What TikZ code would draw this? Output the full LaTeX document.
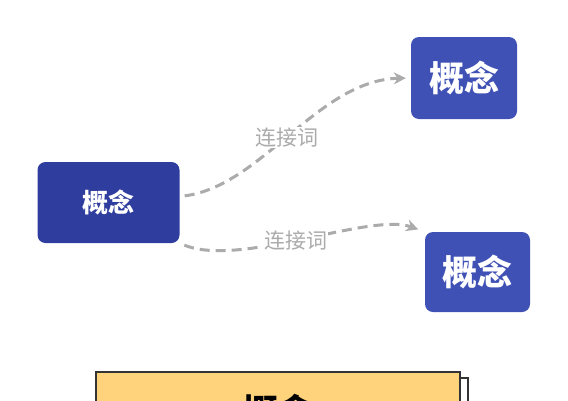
\documentclass[tikz,border=0pt]{standalone}
\usepackage{fontspec}
\newfontfamily\cjk{Noto Sans CJK SC}
\usepackage{tikz}
\usetikzlibrary{arrows.meta}
\usetikzlibrary{backgrounds}
\definecolor{conceptdark}{HTML}{2F3E9E}
\definecolor{concept}{HTML}{3F51B5}
\definecolor{linkgray}{HTML}{ABABAB}
\definecolor{notefill}{HTML}{FFD37B}

\begin{document}
\begin{tikzpicture}[x=1pt,y=-1pt,
	linkline/.style={draw=linkgray, line width=3pt, dash pattern=on 10pt off 6pt}]
	\useasboundingbox (0,0) rectangle (568,400);
	\begin{scope}[every node/.style={rectangle, rounded corners=8pt, text=white, font=\cjk\bfseries, inner sep=0pt}]
		\node[fill=conceptdark, minimum width=142pt, minimum height=81pt, font=\cjk\bfseries\fontsize{26}{30}\selectfont] (c1) at (108.5,202.5) {概念};
		\node[fill=concept, minimum width=106pt, minimum height=82pt, font=\cjk\bfseries\fontsize{35}{40}\selectfont]   (c2) at (464,78) {概念};
		\node[fill=concept, minimum width=105pt, minimum height=80pt, font=\cjk\bfseries\fontsize{35}{40}\selectfont]   (c3) at (477.5,272) {概念};
	\end{scope}
	\begin{scope}[every node/.style={rectangle, draw=black!80, line width=2pt, minimum width=364pt, minimum height=80pt, inner sep=0pt}]
		\node[fill=white]    (back) at (286,418) {};
		\node[fill=notefill, font=\cjk\bfseries\fontsize{36}{40}\selectfont] (note) at (278,412) {概念};
	\end{scope}
	\begin{scope}[>={Stealth[linkgray, length=12pt, width=12pt]},
	              every node/.style={fill=white, text=linkgray, inner sep=1pt, font=\cjk\fontsize{21}{24}\selectfont}]
		\path[linkline, ->, shorten <=5pt, shorten >=5pt] ([yshift=6pt]c1.east) .. controls (262,186) and (318,80) .. node[pos=0.48]{连接词} (c2.west);
		\path[linkline, ->, shorten <=5pt, shorten >=7pt] (c1.south east) .. controls (240,268) and (370,212) .. node[pos=0.47]{连接词} (c3.north west);
	\end{scope}
\end{tikzpicture}
\end{document}
